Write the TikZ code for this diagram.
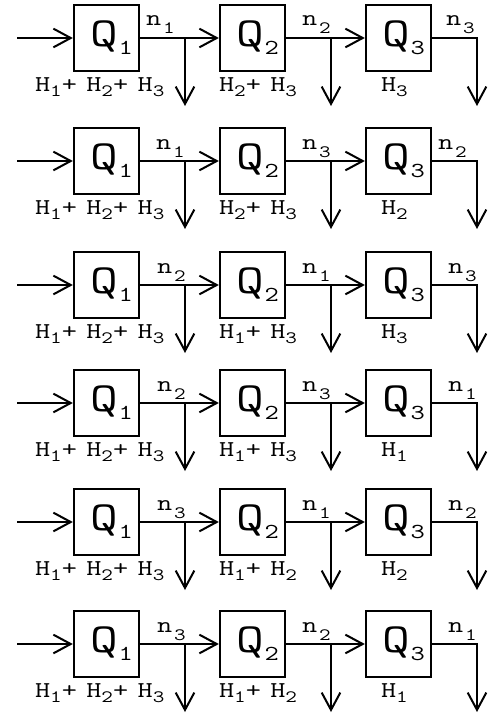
\documentclass[tikz,border=0pt]{standalone}
\usepackage{fontspec}
\newfontfamily\cour[FakeStretch=1.3]{Latin Modern Mono}
\usetikzlibrary{arrows.meta}
\newcommand\qlab[1]{\hspace*{8pt}{\fontsize{31}{31}\selectfont Q}\raisebox{-6pt}{\fontsize{16}{16}\selectfont #1}}
\newcommand\subn[1]{\raisebox{-4pt}{\fontsize{13}{13}\selectfont #1}}
\newcommand\subm[1]{\kern1.5pt\raisebox{-6pt}{\fontsize{13}{13}\selectfont #1}}
\newcommand\hh[1]{H\subn{#1}}
\newcommand\gap{\hspace{7pt}}
\begin{document}
\begin{tikzpicture}[x=0.75pt,y=-0.75pt, line width=1.5pt,
  box/.style={draw, minimum width=49pt, minimum height=49pt, inner sep=0pt, font=\cour},
  lab/.style={font=\cour\fontsize{17}{17}\selectfont, inner sep=0pt, anchor=base west},
  arr/.style={-{Straight Barb[length=13pt,width=14pt,line width=1.5pt]}}]
\path[use as bounding box] (0,0) rectangle (494,717);
\foreach [count=\i] \yc/\xa/\xc/\na/\nb/\nc/\lb/\lc in {
  38/145/445/1/2/3/{\hh2+\gap\hh3}/{\hh3},
  161/155/437/1/3/2/{\hh2+\gap\hh3}/{\hh2},
  285/156/447/2/1/3/{\hh1+\gap\hh3}/{\hh3},
  403/156/447/2/3/1/{\hh1+\gap\hh3}/{\hh1},
  522/156/447/3/1/2/{\hh1+\gap\hh2}/{\hh2},
  644/156/447/3/2/1/{\hh1+\gap\hh2}/{\hh1}} {
  \node[box] (q1-\i) at (106.5,\yc) {\qlab1};
  \node[box] (q2-\i) at (252.5,\yc) {\qlab2};
  \node[box] (q3-\i) at (398.5,\yc) {\qlab3};
  \coordinate (in-\i) at (17,\yc);
  \coordinate (b1-\i) at (185,\yc);
  \coordinate (d1-\i) at (185,\yc+68);
  \coordinate (b2-\i) at (331,\yc);
  \coordinate (d2-\i) at (331,\yc+68);
  \coordinate (c3-\i) at (477,\yc);
  \coordinate (d3-\i) at (477,\yc+68);
  \draw[arr] (in-\i) -- (q1-\i);
  \draw[arr] (q1-\i) -- (q2-\i);
  \draw[arr] (b1-\i) -- (d1-\i);
  \draw[arr] (q2-\i) -- (q3-\i);
  \draw[arr] (b2-\i) -- (d2-\i);
  \draw[arr] (q3-\i.east) -- (c3-\i) -- (d3-\i);
  \node[lab] (na-\i) at (\xa,\yc-12) {n\subm{\na}};
  \node[lab] (nb-\i) at (301,\yc-12) {n\subm{\nb}};
  \node[lab] (nc-\i) at (\xc,\yc-12) {n\subm{\nc}};
  \node[lab] (la-\i) at (34,\yc+53) {\hh1+\gap\hh2+\gap\hh3};
  \node[lab] (lb-\i) at (218,\yc+53) {\lb};
  \node[lab] (lc-\i) at (380,\yc+53) {\lc};
}
\end{tikzpicture}
\end{document}
